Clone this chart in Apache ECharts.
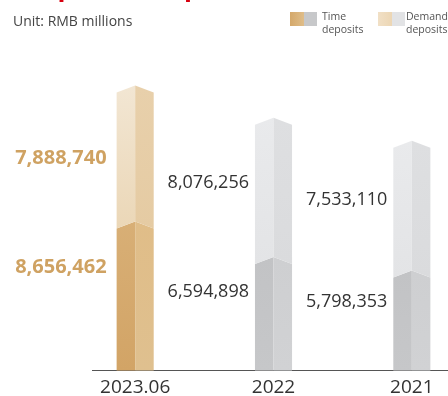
<!DOCTYPE html>
<html>
<head>
<meta charset="utf-8">
<script src="https://cdn.jsdelivr.net/npm/echarts@6/dist/echarts.min.js"></script>
<style>
  html, body { margin: 0; padding: 0; background: #fff; }
  #chart { width: 448px; height: 396px; }
</style>
</head>
<body>
<div id="chart"></div>
<script>
// Deposit structure, RMB millions
const categories = ['2023.06', '2022', '2021'];
const timeDeposits = [8656462, 6594898, 5798353];
const demandDeposits = [7888740, 8076256, 7533110];
const legendNames = ['Time\ndeposits', 'Demand\ndeposits'];

const FONT = '"Open Sans", "Noto Sans", sans-serif';

// Face colours of the pillars: the latest period in gold, earlier years in grey
const gold = {
  time:   { left: ['#d8af76', '#d2a466'], right: ['#e0bd88', '#dfc08f'] },
  demand: { left: ['#f2e6d3', '#ebd7b7'], right: ['#e8d0ab', '#e5cba3'] },
  label: '#cfa262', weight: 'bold', size: 20, gap: 10
};
const grey = {
  time:   { left: ['#c2c3c5', '#c6c7c9'], right: ['#cecfd1', '#d1d2d4'] },
  demand: { left: ['#e9eaec', '#e3e4e6'], right: ['#dedfe1', '#dadbdd'] },
  label: '#333333', weight: 'normal', size: 18, gap: 6
};

const fmt = v => v.toLocaleString('en-US');

function vGrad(c) {
  return new echarts.graphic.LinearGradient(0, 0, 0, 1, [
    { offset: 0, color: c[0] }, { offset: 1, color: c[1] }
  ]);
}

// Draws one segment of a two-faced pillar with a pointed top,
// plus its value label on the left side. The label sits at a fraction
// of the span between the segment top and the anchor (segment base, or
// the axis for the upper segment).
function pillar(kind, labelFrac, fromAxis) {
  return function (params, api) {
    const i = api.value(0);
    const base = api.value(1);
    const val = api.value(2);
    const pal = i === 0 ? gold : grey;
    const face = pal[kind];
    const p0 = api.coord([i, base]);
    const p1 = api.coord([i, base + val]);
    const axisY = api.coord([i, 0])[1];
    const cx = p0[0], yb = p0[1], yt = p1[1];
    const w = api.size([1, 0])[0] * 0.134;
    const d = 7;
    const ybs = base > 0 ? yb + d : yb;
    const anchor = fromAxis ? axisY : yb;
    return {
      type: 'group',
      children: [
        { type: 'polygon',
          shape: { points: [[cx - w, yt + d], [cx, yt], [cx, yb], [cx - w, ybs]] },
          style: { fill: vGrad(face.left) } },
        { type: 'polygon',
          shape: { points: [[cx, yt], [cx + w, yt + d], [cx + w, ybs], [cx, yb]] },
          style: { fill: vGrad(face.right) } },
        { type: 'text',
          x: cx - w - pal.gap,
          y: yt + (anchor - yt) * labelFrac,
          style: {
            text: fmt(val), align: 'right', verticalAlign: 'middle',
            fill: pal.label, fontSize: pal.size, fontWeight: pal.weight, fontFamily: FONT
          } }
      ]
    };
  };
}

const timeData = categories.map((c, i) => [i, 0, timeDeposits[i]]);
const demandData = categories.map((c, i) => [i, timeDeposits[i], demandDeposits[i]]);

const chart = echarts.init(document.getElementById('chart'), null, { renderer: 'canvas' });
chart.setOption({
  animation: false,
  backgroundColor: '#ffffff',
  grid: { left: 66, top: 26, width: 415, height: 344.5, outerBoundsMode: 'none', containLabel: false },
  xAxis: {
    type: 'category',
    data: categories,
    axisLine: { show: false },
    axisTick: { show: false },
    axisLabel: { color: '#333333', fontSize: 19, fontFamily: FONT, margin: 8 }
  },
  yAxis: { type: 'value', min: 0, max: 20000000, show: false, splitLine: { show: false } },
  series: [
    { type: 'custom', name: 'Time deposits', renderItem: pillar('time', 0.31, false),
      encode: { x: 0, y: 2 }, data: timeData },
    { type: 'custom', name: 'Demand deposits', renderItem: pillar('demand', 0.257, true),
      encode: { x: 0, y: 2 }, data: demandData }
  ],
  graphic: [
    { type: 'text', x: 23, y: -11,
      style: { text: 'Deposit composition', fill: '#d7000f', fontSize: 26, fontWeight: 'bold',
               fontFamily: FONT, verticalAlign: 'middle' } },
    { type: 'text', x: 13, y: 22,
      style: { text: 'Unit: RMB millions', fill: '#444444', fontSize: 14, fontFamily: FONT,
               verticalAlign: 'middle' } },
    // legend swatches
    { type: 'rect', shape: { x: 290, y: 12, width: 14, height: 14 },
      style: { fill: new echarts.graphic.LinearGradient(0, 0, 1, 0, [
        { offset: 0, color: '#d4a86a' }, { offset: 1, color: '#dfbd89' }]) } },
    { type: 'rect', shape: { x: 304, y: 12, width: 13, height: 14 }, style: { fill: '#c7c8ca' } },
    { type: 'text', x: 322, y: 11,
      style: { text: legendNames[0], fill: '#555555', fontSize: 10.5, lineHeight: 13,
               fontFamily: FONT, verticalAlign: 'top' } },
    { type: 'rect', shape: { x: 378, y: 12, width: 14, height: 14 },
      style: { fill: new echarts.graphic.LinearGradient(0, 0, 1, 0, [
        { offset: 0, color: '#f1e0c6' }, { offset: 1, color: '#ecd6b4' }]) } },
    { type: 'rect', shape: { x: 392, y: 12, width: 13, height: 14 }, style: { fill: '#e2e3e5' } },
    { type: 'text', x: 406, y: 11,
      style: { text: legendNames[1], fill: '#555555', fontSize: 10.5, lineHeight: 13,
               fontFamily: FONT, verticalAlign: 'top' } },
    // baseline
    { type: 'line', shape: { x1: 92, y1: 370.5, x2: 448, y2: 370.5 },
      style: { stroke: '#555555', lineWidth: 1 } }
  ]
});
</script>
</body>
</html>
